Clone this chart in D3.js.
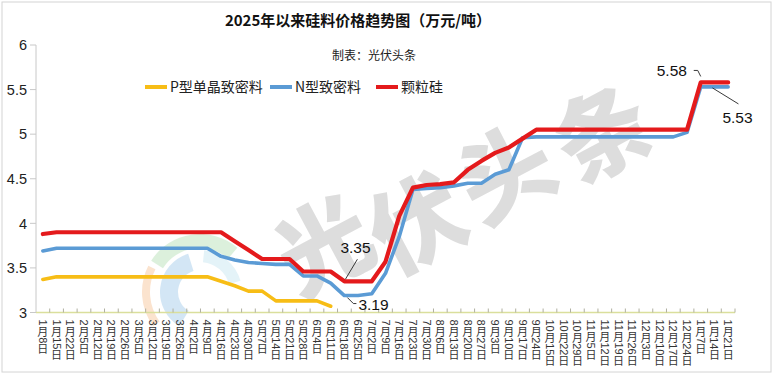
<!DOCTYPE html>
<html><head><meta charset="utf-8">
<script src="https://cdn.jsdelivr.net/npm/d3@7/dist/d3.min.js"></script>
<style>
html,body{margin:0;padding:0;background:#fff;}
svg{display:block;}
</style></head>
<body>
<svg id="c" width="775" height="379"></svg>
<script>
const categories = ["1月8日","1月15日","1月22日","2月5日","2月12日","2月19日","2月26日","3月5日","3月12日","3月19日","3月26日","4月2日","4月9日","4月16日","4月23日","4月30日","5月7日","5月14日","5月21日","5月28日","6月4日","6月11日","6月18日","6月25日","7月2日","7月9日","7月16日","7月23日","7月30日","8月6日","8月13日","8月20日","8月27日","9月3日","9月10日","9月17日","9月24日","10月15日","10月22日","10月29日","11月5日","11月12日","11月19日","11月26日","12月3日","12月10日","12月17日","12月24日","1月7日","1月14日","1月21日"];

const pType = [3.37,3.40,3.40,3.40,3.40,3.40,3.40,3.40,3.40,3.40,3.40,3.40,3.40,3.35,3.30,3.24,3.24,3.13,3.13,3.13,3.13,3.07,
  null,null,null,null,null,null,null,null,null,null,null,null,null,null,null,null,null,null,null,null,null,null,null,null,null,null,null,null,null];

const nType = [3.69,3.72,3.72,3.72,3.72,3.72,3.72,3.72,3.72,3.72,3.72,3.72,3.72,3.63,3.59,3.56,3.55,3.54,3.54,3.41,3.41,3.33,3.19,3.19,3.21,3.44,3.85,4.38,4.39,4.40,4.42,4.45,4.45,4.55,4.60,4.96,4.97,4.97,4.97,4.97,4.97,4.97,4.97,4.97,4.97,4.97,4.97,5.02,5.53,5.53,5.53];

const granular = [3.88,3.90,3.90,3.90,3.90,3.90,3.90,3.90,3.90,3.90,3.90,3.90,3.90,3.90,3.80,3.70,3.60,3.60,3.60,3.46,3.46,3.46,3.35,3.35,3.35,3.57,4.08,4.40,4.43,4.44,4.46,4.60,4.70,4.79,4.85,4.95,5.05,5.05,5.05,5.05,5.05,5.05,5.05,5.05,5.05,5.05,5.05,5.05,5.58,5.58,5.58];

const yTicks = [3,3.5,4,4.5,5,5.5,6];
const seriesNames = ["P型单晶致密料","N型致密料","颗粒硅"];
const seriesColors = ["#f7bd16","#5b9bd5","#e41a1c"];
const titleText = "2025年以来硅料价格趋势图（万元/吨）";
const subTitle = "制表：光伏头条";
const watermark = ["光","伏","头","条"];

const svg = d3.select("#c");
const L = 36, R = 735, T = 45, B = 312.5;
const x = d3.scaleBand().domain(categories).range([L, R]).padding(0);
const y = d3.scaleLinear().domain([3,6]).range([B, T]);
const cx = c => x(c) + x.bandwidth()/2;

// outer border
svg.append("rect").attr("x",2).attr("y",2).attr("width",769).attr("height",370)
  .attr("fill","#fff").attr("stroke","#d4d4d4").attr("stroke-width",1);

// faint logo watermark
const logo = svg.append("g").attr("transform","translate(200,292)").attr("opacity",0.3);
const arc = d3.arc();
logo.append("path").attr("d", arc({innerRadius:50,outerRadius:58,startAngle:-2.2,endAngle:-1.1})).attr("fill","#f4a460");
logo.append("path").attr("d", arc({innerRadius:44,outerRadius:58,startAngle:-1.0,endAngle:0.7})).attr("fill","#8fd18f");
logo.append("path").attr("d", arc({innerRadius:22,outerRadius:40,startAngle:-2.6,endAngle:-0.3})).attr("fill","#6fb0e0");
logo.append("path").attr("d", arc({innerRadius:30,outerRadius:42,startAngle:0.1,endAngle:1.3})).attr("fill","#a8d8ea");

// text watermark
const wmPos = [[321,240],[414,218],[503,168],[600,128]];
svg.append("g").selectAll("text").data(watermark).join("text")
  .attr("transform",(d,i)=>`translate(${wmPos[i][0]},${wmPos[i][1]}) rotate(-28)`)
  .attr("text-anchor","middle").attr("dominant-baseline","central")
  .attr("font-family","Noto Sans CJK SC").attr("font-weight","900").attr("font-size",94)
  .attr("fill","#d2d2d2").attr("opacity",0.75).text(d=>d);

// y axis
const ya = svg.append("g");
ya.append("line").attr("x1",L).attr("x2",L).attr("y1",T).attr("y2",B).attr("stroke","#c8c8c8");
ya.selectAll("line.t").data(yTicks).join("line").attr("class","t")
  .attr("x1",L-6).attr("x2",L).attr("y1",d=>y(d)).attr("y2",d=>y(d)).attr("stroke","#c8c8c8");
ya.selectAll("text").data(yTicks).join("text")
  .attr("x",L-9).attr("y",d=>y(d)).attr("dy","0.36em").attr("text-anchor","end")
  .attr("font-family","Liberation Sans, Arial, sans-serif").attr("font-size",14.5).attr("fill","#222")
  .text(d=>d);

// x axis
const xa = svg.append("g");
xa.append("line").attr("x1",L).attr("x2",R).attr("y1",B).attr("y2",B).attr("stroke","#dadf9c").attr("stroke-width",1.5);
xa.selectAll("line.t").data(categories.slice(1)).join("line").attr("class","t")
  .attr("x1",d=>x(d)).attr("x2",d=>x(d)).attr("y1",B).attr("y2",B-4).attr("stroke","#b0b0a0");
xa.append("line").attr("x1",R).attr("x2",R).attr("y1",B).attr("y2",B-4).attr("stroke","#b0b0a0");

// stacked vertical labels: digits rotated, CJK upright
const fs = 11;
categories.forEach(c=>{
  const g = xa.append("g").attr("transform",`translate(${cx(c)},0)`);
  const tokens = c.match(/\d+|[^\d]/g);
  let cur = B + 7;
  tokens.forEach(tk=>{
    if (/\d/.test(tk)) {
      const t = g.append("text").attr("transform",`translate(0,${cur}) rotate(90)`)
        .attr("dominant-baseline","central").attr("text-anchor","start")
        .attr("font-family","Liberation Sans, Arial, sans-serif").attr("font-size",fs).attr("fill","#333").text(tk);
      cur += t.node().getComputedTextLength() + 0.5;
    } else {
      g.append("text").attr("x",0).attr("y",cur + fs*0.86).attr("text-anchor","middle")
        .attr("font-family","Noto Sans CJK SC, sans-serif").attr("font-size",fs).attr("fill","#333").text(tk);
      cur += fs;
    }
  });
});

// lines
const series = [pType, nType, granular];
const line = d3.line().defined(d=>d.v!=null).x(d=>cx(d.c)).y(d=>y(d.v));
series.forEach((s,i)=>{
  const data = categories.map((c,j)=>({c, v:s[j]}));
  svg.append("path").datum(data).attr("d",line).attr("fill","none")
    .attr("stroke",seriesColors[i]).attr("stroke-width",i===2?4.2:3.6)
    .attr("stroke-linejoin","round").attr("stroke-linecap","round");
});

// title & subtitle
svg.append("text").attr("x",358).attr("y",26).attr("text-anchor","middle")
  .attr("font-family","Noto Sans CJK SC").attr("font-weight","bold").attr("font-size",15)
  .attr("fill","#111").text(titleText);
svg.append("text").attr("x",374).attr("y",60).attr("text-anchor","middle")
  .attr("font-family","Noto Sans CJK SC").attr("font-size",12)
  .attr("fill","#222").text(subTitle);

// legend
const legX = [145, 270, 376];
const lg = svg.append("g");
seriesNames.forEach((n,i)=>{
  lg.append("line").attr("x1",legX[i]).attr("x2",legX[i]+22).attr("y1",87).attr("y2",87)
    .attr("stroke",seriesColors[i]).attr("stroke-width",4);
  lg.append("text").attr("x",legX[i]+25).attr("y",87).attr("dy","0.36em")
    .attr("font-family","Noto Sans CJK SC").attr("font-size",14).attr("fill","#222").text(n);
});

// data labels
const lab = svg.append("g").attr("font-family","Liberation Sans, Arial, sans-serif").attr("font-size",15.5).attr("fill","#111");
function label(ci, v, txt, tx, ty, path){
  const px = cx(categories[ci]), py = y(v);
  lab.append("path").attr("d", path(px,py)).attr("fill","none").attr("stroke","#222").attr("stroke-width",0.9);
  lab.append("text").attr("x",px+tx).attr("y",py+ty).text(txt);
}
const iMin = granular.indexOf(d3.min(granular));
label(iMin, granular[iMin], d3.format(".2f")(granular[iMin]), -4, -28,
  (px,py)=>`M${px+1},${py-2} L${px+13},${py-22}`);
const iMinN = nType.indexOf(d3.min(nType));
label(iMinN, nType[iMinN], d3.format(".2f")(nType[iMinN]), 14, 14,
  (px,py)=>`M${px+3},${py+2} L${px+9},${py+8} L${px+12},${py+8}`);
const iMax = granular.indexOf(d3.max(granular));
label(iMax, granular[iMax], d3.format(".2f")(granular[iMax]), -44, -6,
  (px,py)=>`M${px-7},${py-12} L${px-3},${py-12} L${px},${py-6}`);
const iMaxN = nType.indexOf(d3.max(nType))+1;
label(iMaxN, nType[iMaxN], d3.format(".2f")(nType[iMaxN]), 8, 36,
  (px,py)=>`M${px-2},${py+1} L${px+24},${py+17}`);
</script>
</body></html>
